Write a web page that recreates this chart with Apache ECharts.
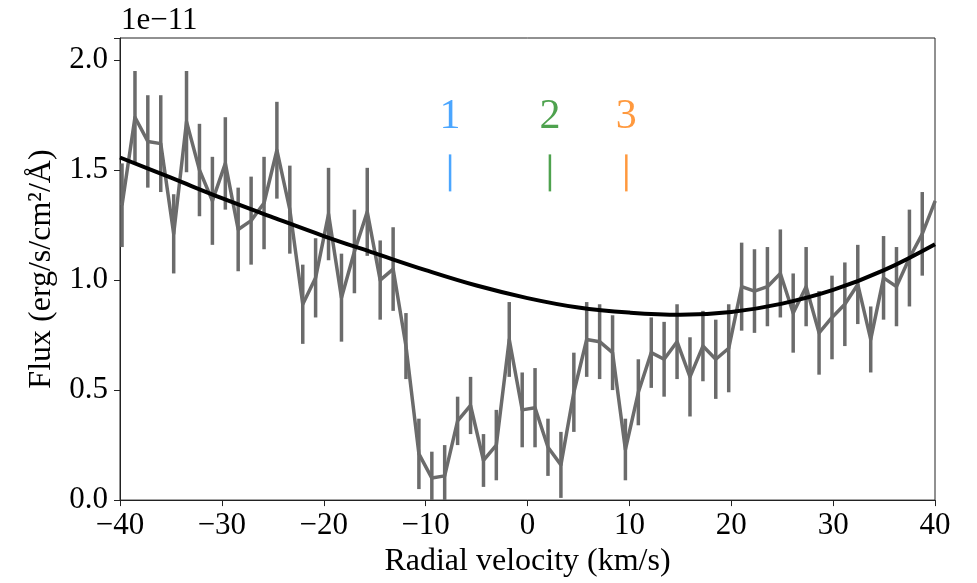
<!DOCTYPE html>
<html>
<head>
<meta charset="utf-8">
<script src="https://cdn.jsdelivr.net/npm/echarts@6/dist/echarts.min.js"></script>
<style>
html,body{margin:0;padding:0;background:#fff;}
#chart{width:977px;height:583px;}
</style>
</head>
<body>
<div id="chart"></div>
<script>
// Radial velocity (km/s)
const velocity = [-39.80,-38.53,-37.27,-36.00,-34.73,-33.47,-32.20,-30.93,-29.66,-28.40,-27.13,-25.86,-24.60,-23.33,-22.06,-20.80,-19.53,-18.26,-16.99,-15.73,-14.46,-13.19,-11.93,-10.66,-9.39,-8.13,-6.86,-5.59,-4.32,-3.06,-1.79,-0.52,0.74,2.01,3.28,4.55,5.81,7.08,8.35,9.61,10.88,12.15,13.41,14.68,15.95,17.22,18.48,19.75,21.02,22.28,23.55,24.82,26.08,27.35,28.62,29.89,31.15,32.42,33.69,34.95,36.22,37.49,38.75,40.02];
// Flux in units of 1e-11 erg/s/cm2/A
const flux = [1.34,1.74,1.63,1.62,1.21,1.72,1.50,1.36,1.53,
  1.23,1.27,1.35,1.59,1.32,0.89,1.01,1.30,0.92,
  1.13,1.31,1.00,1.05,0.70,0.21,0.10,0.11,0.36,
  0.43,0.18,0.25,0.73,0.41,0.42,0.24,0.16,0.49,
  0.73,0.72,0.67,0.23,0.49,0.67,0.64,0.72,0.56,
  0.70,0.64,0.69,0.97,0.95,0.97,1.03,0.85,0.97,
  0.76,0.83,0.89,0.98,0.73,1.01,0.97,1.10,1.21,1.36];
const fluxErr = [0.19,0.21,0.21,0.22,0.18,0.23,0.21,0.20,0.21,
  0.19,0.20,0.21,0.22,0.20,0.18,0.18,0.21,0.20,
  0.19,0.20,0.18,0.19,0.15,0.16,0.12,0.14,0.11,
  0.13,0.12,0.16,0.17,0.17,0.18,0.13,0.15,0.18,
  0.17,0.17,0.17,0.14,0.15,0.16,0.17,0.17,0.18,
  0.16,0.18,0.20,0.20,0.19,0.18,0.20,0.18,0.18,
  0.19,0.19,0.19,0.18,0.15,0.19,0.18,0.22,0.19,0.20];
// Continuum fit (black curve)
const contVel = [-40,-35,-30,-25,-20,-15,-10,-5,0,5,10,15,20,25,30,35,40];
const contFlux = [1.557,1.465,1.372,1.285,1.200,1.122,1.045,0.975,0.918,0.875,0.852,0.842,0.855,0.893,0.955,1.045,1.163];
// Component markers
const markerVel = [-7.6, 2.2, 9.7];
const markerLabels = ['1', '2', '3'];
const markerColors = ['#1e90ff', '#228b22', '#ff7f0e'];
const markerTickY = 1.487;
const markerTextY = 1.74;
const xTicks = [-40, 40, 10];
const yTicks = [0, 2.1, 0.5];

const FONT = 'Liberation Serif';
const fmtNeg = v => (v < 0 ? '\u2212' + Math.abs(v) : String(v));

const chart = echarts.init(document.getElementById('chart'), null, {renderer: 'canvas'});

const gray = '#6b6b6b';

const option = {
  animation: false,
  backgroundColor: '#fff',
  grid: {left: 120, right: 42, top: 38, bottom: 77, show: true, borderColor: '#222', borderWidth: 1, backgroundColor: 'transparent'},
  xAxis: {
    type: 'value', min: xTicks[0], max: xTicks[1], interval: xTicks[2],
    name: 'Radial velocity (km/s)', nameLocation: 'middle', nameGap: 41,
    nameTextStyle: {fontFamily: FONT, fontSize: 32, color: '#000'},
    axisLine: {show: true, onZero: false, lineStyle: {color: '#222', width: 1}},
    axisTick: {show: true, inside: false, length: 6, lineStyle: {color: '#222', width: 1}},
    axisLabel: {fontFamily: FONT, fontSize: 31, color: '#000', margin: 10, formatter: fmtNeg},
    splitLine: {show: false}
  },
  yAxis: {
    type: 'value', min: yTicks[0], max: yTicks[1], interval: yTicks[2],
    name: 'Flux (erg/s/cm\u00b2/\u00c5)', nameLocation: 'middle', nameGap: 62, nameRotate: 90,
    nameTextStyle: {fontFamily: FONT, fontSize: 32, color: '#000'},
    axisLine: {show: true, onZero: false, lineStyle: {color: '#222', width: 1}},
    axisTick: {show: true, inside: false, length: 6, lineStyle: {color: '#222', width: 1}},
    axisLabel: {fontFamily: FONT, fontSize: 31, color: '#000', margin: 12,
      formatter: v => (v > 2.05 ? '' : v.toFixed(1))},
    splitLine: {show: false}
  },
  graphic: [{
    type: 'text', left: 121, top: 5,
    style: {text: '1e\u221211', font: '31px "Liberation Serif"', fill: '#000'}
  }],
  series: [
    {
      type: 'custom',
      name: 'errors',
      clip: true,
      data: velocity.map((v, i) => [v, flux[i] - fluxErr[i], flux[i] + fluxErr[i]]),
      renderItem: function (params, api) {
        const p1 = api.coord([api.value(0), api.value(1)]);
        const p2 = api.coord([api.value(0), api.value(2)]);
        const cs = params.coordSys;
        if (p1[0] < cs.x || p1[0] > cs.x + cs.width) return null;
        const top = Math.max(p2[1], cs.y);
        const bot = Math.min(p1[1], cs.y + cs.height);
        return {
          type: 'line',
          shape: {x1: p1[0], y1: bot, x2: p1[0], y2: top},
          style: {stroke: gray, lineWidth: 3.5}
        };
      },
      z: 2
    },
    {
      type: 'line',
      name: 'flux',
      data: velocity.map((v, i) => [v, flux[i]]),
      showSymbol: false,
      clip: true,
      lineStyle: {color: gray, width: 3.5, join: 'round'},
      z: 3
    },
    {
      type: 'line',
      name: 'continuum',
      data: contVel.map((v, i) => [v, contFlux[i]]),
      showSymbol: false,
      smooth: 0.4,
      clip: true,
      lineStyle: {color: '#000', width: 4},
      z: 4
    },
    {
      type: 'scatter',
      name: 'markerTicks',
      symbol: 'rect',
      symbolSize: [2.5, 37],
      data: markerVel.map((v, i) => ({value: [v, markerTickY], itemStyle: {color: markerColors[i]}})),
      z: 5
    },
    {
      type: 'scatter',
      name: 'markerText',
      symbolSize: 0,
      data: markerVel.map((v, i) => ({
        value: [v, markerTextY],
        label: {show: true, position: 'inside', formatter: markerLabels[i], color: markerColors[i],
          fontFamily: FONT, fontSize: 42}
      })),
      z: 5
    }
  ]
};
chart.setOption(option);
</script>
</body>
</html>
